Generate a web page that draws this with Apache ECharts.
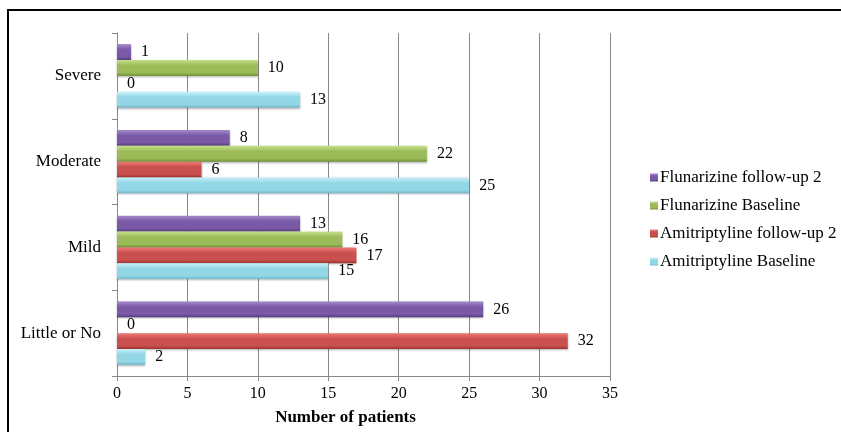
<!DOCTYPE html>
<html>
<head>
<meta charset="utf-8">
<script src="https://cdn.jsdelivr.net/npm/echarts@6/dist/echarts.min.js"></script>
<style>html,body{margin:0;padding:0;background:#fff}#c{width:841px;height:432px}</style>
</head>
<body>
<div id="c"></div>
<script>
const categories = ['Little or No', 'Mild', 'Moderate', 'Severe'];
const seriesNames = ['Flunarizine follow-up 2', 'Flunarizine Baseline', 'Amitriptyline follow-up 2', 'Amitriptyline Baseline'];
const fluFollowup2 = [26, 13, 8, 1];
const fluBaseline = [0, 16, 22, 10];
const amiFollowup2 = [32, 17, 6, 0];
const amiBaseline = [2, 15, 25, 13];
const xTicks = [0, 5, 10, 15, 20, 25, 30, 35];

const palettes = [
  ['#a68acb', '#7a5aa6', '#563b7d'],
  ['#c6e08a', '#9bbb59', '#739136'],
  ['#ee7a76', '#c9504c', '#9a3431'],
  ['#c9f1fa', '#93d7e6', '#6fb8c9']
];
const values = [fluFollowup2, fluBaseline, amiFollowup2, amiBaseline];
const font = "'Liberation Serif', 'Times New Roman', serif";

const chart = echarts.init(document.getElementById('c'));
chart.setOption({
  animation: false,
  textStyle: { fontFamily: font },
  grid: { left: 117, right: 231, top: 33, bottom: 56 },
  legend: {
    orient: 'vertical', left: 645, top: 164,
    data: seriesNames,
    icon: 'rect', itemWidth: 8, itemHeight: 8, itemGap: 11,
    textStyle: { fontFamily: font, fontSize: 17, color: '#000', padding: [0, 0, 0, -3] }
  },
  xAxis: {
    type: 'value', min: 0, max: 35, interval: 5,
    name: 'Number of patients', nameLocation: 'middle', nameGap: 33,
    nameTextStyle: { fontFamily: font, fontSize: 17, fontWeight: 'bold', color: '#000', padding: [0, 36, 0, 0] },
    axisLine: { show: true, lineStyle: { color: '#888' } },
    axisTick: { show: true, length: 5, lineStyle: { color: '#888' } },
    axisLabel: { fontFamily: font, fontSize: 16, color: '#000', margin: 10,
      formatter: v => xTicks.includes(v) ? String(v) : '' },
    splitLine: { show: true, lineStyle: { color: '#888', width: 1 } }
  },
  yAxis: {
    type: 'category', data: categories,
    axisLine: { show: true, lineStyle: { color: '#888' } },
    axisTick: { show: true, length: 5, lineStyle: { color: '#888' } },
    axisLabel: { fontFamily: font, fontSize: 17, color: '#000', margin: 16 }
  },
  graphic: [{
    type: 'rect', shape: { x: 8, y: 10, width: 900, height: 500 },
    style: { fill: 'none', stroke: '#000', lineWidth: 2 }, silent: true
  }],
  series: seriesNames.map((n, i) => ({
    name: n, type: 'bar', data: values[i],
    barGap: '0%', barCategoryGap: '26%',
    itemStyle: {
      color: new echarts.graphic.LinearGradient(0, 0, 0, 1, [
        { offset: 0, color: palettes[i][0] },
        { offset: 0.35, color: palettes[i][1] },
        { offset: 0.8, color: palettes[i][1] },
        { offset: 1, color: palettes[i][2] }
      ]),
      shadowColor: 'rgba(0,0,0,0.3)', shadowBlur: 2, shadowOffsetY: 1
    },
    label: { show: true, position: 'right', distance: 10, fontFamily: font, fontSize: 16, color: '#000' }
  }))
});
</script>
</body>
</html>
